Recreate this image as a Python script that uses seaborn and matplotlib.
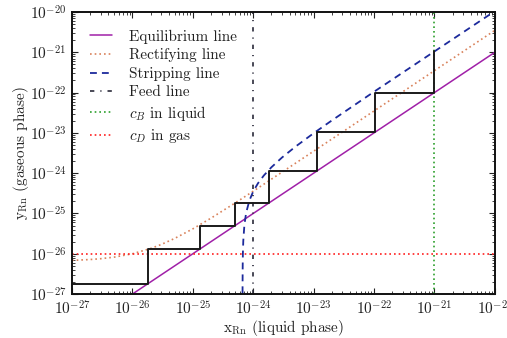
import numpy as np
import pandas as pd
import matplotlib
matplotlib.use("Agg")
import matplotlib.pyplot as plt
import seaborn as sns

# ---- data ----
eq_x = [1e-27, 1e-20]
eq_y = [1e-28, 1e-21]

rect_x = [1e-27, 2e-27, 3e-27, 5e-27, 1e-26, 2e-26, 3e-26, 5e-26, 1e-25, 2e-25,
          5e-25, 1e-24, 1e-23, 1e-22, 1e-21, 1e-20]
rect_y = [6.85e-27, 7.2e-27, 7.55e-27, 8.25e-27, 1.0e-26, 1.35e-26, 1.7e-26, 2.4e-26,
          4.15e-26, 7.65e-26, 1.815e-25, 3.565e-25, 3.51e-24, 3.5e-23, 3.5e-22, 3.5e-21]

strip_x = [6.66e-25, 6.67e-25, 6.7e-25, 6.75e-25, 6.85e-25, 7.15e-25, 7.65e-25, 8.65e-25,
           1e-24, 1.2e-24, 1.5e-24, 2e-24, 3e-24, 5e-24, 1e-23, 2e-23, 1e-22, 1e-21, 1e-20]
strip_y = [1.05e-27, 2.1e-27, 5.25e-27, 1.05e-26, 2.1e-26, 5.25e-26, 1.05e-25, 2.1e-25,
           3.52e-25, 5.62e-25, 8.77e-25, 1.40e-24, 2.45e-24, 4.55e-24, 9.8e-24, 2.03e-23,
           1.049e-22, 1.05e-21, 1.05e-20]

feed_x = [1e-24, 1e-24]
feed_y = [1e-27, 1e-20]

cB_x = [1e-21, 1e-21]
cB_y = [1e-27, 1e-20]

cD_x = [1e-27, 1e-20]
cD_y = [1e-26, 1e-26]

stair_x = [1e-27, 1.8e-26, 1.8e-26, 1.3e-25, 1.3e-25, 5e-25, 5e-25, 1.8e-24, 1.8e-24,
           1.12e-23, 1.12e-23, 1.03e-22, 1.03e-22, 1e-21, 1e-21]
stair_y = [1.8e-27, 1.8e-27, 1.3e-26, 1.3e-26, 5e-26, 5e-26, 1.8e-25, 1.8e-25, 1.15e-24,
           1.15e-24, 1.05e-23, 1.05e-23, 1.0e-22, 1.0e-22, 1.05e-21]

labels = ["Equilibrium line", "Rectifying line", "Stripping line", "Feed line",
          r"$c_B$ in liquid", r"$c_D$ in gas"]

# ---- style ----
sns.set_style("white")
plt.rcParams["font.family"] = ["cmr10", "DejaVu Serif"]
plt.rcParams["mathtext.fontset"] = "cm"
plt.rcParams["axes.formatter.use_mathtext"] = True
plt.rcParams["axes.unicode_minus"] = False

fig = plt.figure(figsize=(5.07, 3.38), dpi=100)
ax = fig.add_axes([0.142, 0.130, 0.834, 0.8345])

def draw(x, y, label, **kw):
    df = pd.DataFrame({"x": x, "y": y})
    sns.lineplot(data=df, x="x", y="y", ax=ax, sort=False, estimator=None,
                 label=label, **kw)

dots = (0, (1, 1.8))
draw(eq_x, eq_y, labels[0], color="#a020a8", linewidth=1.1)
draw(rect_x, rect_y, labels[1], color="#d9825b", linewidth=1.2, linestyle=dots)
draw(strip_x, strip_y, labels[2], color="#1c2a9c", linewidth=1.3, linestyle=(0, (3.8, 2.8)))
draw(feed_x, feed_y, labels[3], color="#2a2a3a", linewidth=1.2, linestyle=(0, (2.6, 3.6, 0.7, 3.6)))
draw(cB_x, cB_y, labels[4], color="#2ca02c", linewidth=1.2, linestyle=dots)
draw(cD_x, cD_y, labels[5], color="#ff2020", linewidth=1.2, linestyle=dots)
draw(stair_x, stair_y, None, color="#1a1a1a", linewidth=1.4)

ax.set_xscale("log")
ax.set_yscale("log")
ax.set_xlim(1e-27, 1e-20)
ax.set_ylim(1e-27, 1e-20)
ax.set_xlabel(r"$\mathrm{x_{Rn}}$ (liquid phase)", fontsize=11, labelpad=0)
ax.set_ylabel(r"$\mathrm{y_{Rn}}$ (gaseous phase)", fontsize=11, labelpad=-1)

ax.xaxis.set_major_locator(matplotlib.ticker.LogLocator(base=10, numticks=20))
ax.yaxis.set_major_locator(matplotlib.ticker.LogLocator(base=10, numticks=20))
ax.xaxis.set_minor_locator(matplotlib.ticker.LogLocator(base=10, subs=np.arange(2, 10), numticks=200))
ax.yaxis.set_minor_locator(matplotlib.ticker.LogLocator(base=10, subs=np.arange(2, 10), numticks=200))
ax.xaxis.set_minor_formatter(matplotlib.ticker.NullFormatter())
ax.yaxis.set_minor_formatter(matplotlib.ticker.NullFormatter())

ax.tick_params(which="both", direction="in", top=True, right=True, bottom=True, left=True,
               labelsize=11, color="#222222", labelcolor="#222222")
ax.tick_params(which="major", length=4.5, width=0.8, pad=4)
ax.tick_params(which="minor", length=2.5, width=0.6)
for s in ax.spines.values():
    s.set_linewidth(1.4)
    s.set_color("#111111")

leg = ax.legend(loc="upper left", frameon=False, fontsize=11, handlelength=1.5,
                borderaxespad=0.75, labelspacing=0.3, handletextpad=1.05)
for t in leg.get_texts():
    t.set_color("#222222")

fig.savefig("out.png", dpi=100)
